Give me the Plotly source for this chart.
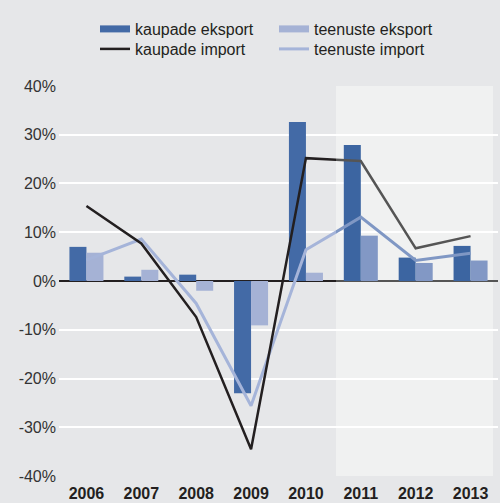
import plotly.graph_objects as go

years = ["2006", "2007", "2008", "2009", "2010", "2011", "2012", "2013"]
kaupade_eksport = [7.0, 0.9, 1.3, -23.0, 32.6, 27.9, 4.8, 7.2]
teenuste_eksport = [5.8, 2.3, -2.0, -9.1, 1.7, 9.3, 3.7, 4.2]
kaupade_import = [15.4, 7.7, -7.4, -34.5, 25.2, 24.6, 6.7, 9.2]
teenuste_import = [4.3, 8.6, -4.6, -25.6, 6.4, 13.1, 4.2, 5.7]
y_ticks = [-40, -30, -20, -10, 0, 10, 20, 30, 40]
y_ticktext = ["-40%", "-30%", "-20%", "-10%", "0%", "10%", "20%", "30%", "40%"]

xs = list(range(len(years)))

# styles
C_KE = "#436aa6"; C_TE = "#a5b2d5"; C_KI = "#231f20"; C_TI = "#a5b4d9"
F_KE = "#3c65a1"; F_TE = "#8298c5"; F_KI = "#555555"; F_TI = "#7f97c4"
BG = "#e6e7e9"; SHADE = "#f0f1f1"
FONT = "Liberation Sans"

split = (336 - 59) / 439.0          # paper fraction where shaded (forecast) zone starts
n = len(years)
split_x = -0.5 + split * n

fig = go.Figure()

for ax, ya, ke, te, ki, ti in [("x", "y", C_KE, C_TE, C_KI, C_TI),
                               ("x2", "y2", F_KE, F_TE, F_KI, F_TI)]:
    fig.add_trace(go.Bar(x=xs, y=kaupade_eksport, marker_color=ke, showlegend=False,
                         xaxis=ax, yaxis=ya, marker_line_width=0))
    fig.add_trace(go.Bar(x=xs, y=teenuste_eksport, marker_color=te, showlegend=False,
                         xaxis=ax, yaxis=ya, marker_line_width=0))
    fig.add_trace(go.Scatter(x=xs, y=teenuste_import, mode="lines", showlegend=False,
                             line=dict(color=ti, width=3), xaxis=ax, yaxis=ya))
    fig.add_trace(go.Scatter(x=xs, y=kaupade_import, mode="lines", showlegend=False,
                             line=dict(color=ki, width=2.5), xaxis=ax, yaxis=ya))

# legend entries
for name, col, w, lg in [("kaupade eksport", C_KE, 7, "legend"), ("teenuste eksport", C_TE, 7, "legend"),
                         ("kaupade import", C_KI, 2.5, "legend2"), ("teenuste import", C_TI, 3, "legend2")]:
    fig.add_trace(go.Scatter(x=[None], y=[None], mode="lines", name=name, legend=lg,
                             line=dict(color=col, width=w), xaxis="x", yaxis="y"))

fig.add_shape(type="rect", xref="x2 domain", yref="y2", x0=0, x1=(493 - 336) / (498 - 336),
              y0=-40, y1=40, fillcolor=SHADE, line_width=0, layer="below")

common_y = dict(range=[-40.2, 40.2], tickvals=y_ticks, showgrid=True, gridcolor="white",
                gridwidth=2, zeroline=True, zerolinewidth=2.2, showline=False, ticks="",
                automargin=False)
xfont = dict(family=FONT, size=16, color="#231f20", weight="bold")
leg = dict(orientation="h", xref="container", yref="container", x=95 / 500, xanchor="left",
           yanchor="middle", entrywidth=134, entrywidthmode="pixels",
           itemwidth=30, bgcolor="rgba(0,0,0,0)", tracegroupgap=0,
           font=dict(family=FONT, size=16, color="#231f20"))
fig.update_layout(
    width=500, height=503,
    margin=dict(l=59, r=2, t=85, b=26, autoexpand=False),
    paper_bgcolor=BG, plot_bgcolor=BG,
    font=dict(family=FONT, size=16, color="#231f20"),
    barmode="group", bargap=0.38, bargroupgap=0,
    xaxis=dict(domain=[0, split], range=[-0.5, split_x], tickvals=xs[:5], ticktext=years[:5],
               showgrid=False, zeroline=False, ticks="", anchor="y", automargin=False,
               tickfont=xfont, ticklabelstandoff=5),
    xaxis2=dict(domain=[split, 1], range=[split_x, n - 0.5], tickvals=xs[5:], ticktext=years[5:],
                showgrid=False, zeroline=False, ticks="", anchor="y2", automargin=False,
                tickfont=xfont, ticklabelstandoff=5),
    yaxis=dict(anchor="x", ticktext=y_ticktext, zerolinecolor=C_KI, ticklabelstandoff=2,
               tickfont=dict(family=FONT, size=16, color="#333333"), **common_y),
    yaxis2=dict(anchor="x2", matches="y", showticklabels=False, zerolinecolor=F_KI, **common_y),
    legend=dict(y=1 - 29 / 503, **leg),
    legend2=dict(y=1 - 49 / 503, **leg),
)

fig.write_html("out.html", config={"displayModeBar": False},
               post_script="document.body.style.margin='0';document.body.style.overflow='hidden';")
